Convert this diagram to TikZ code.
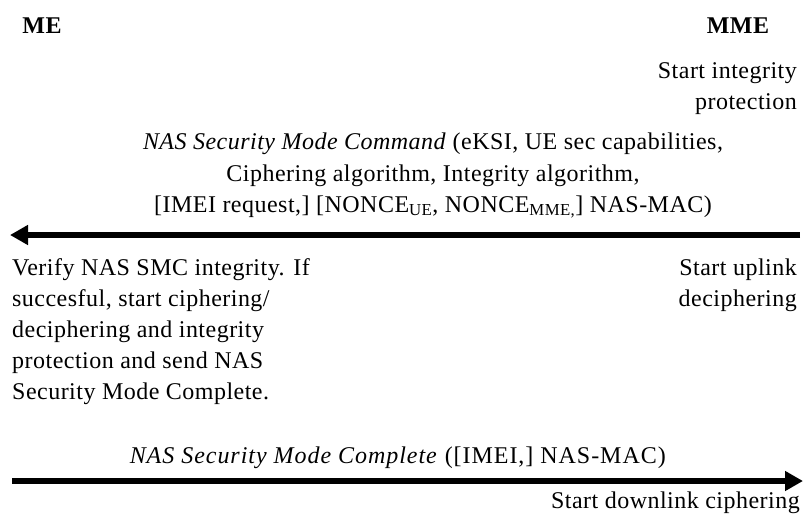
\documentclass[tikz,border=0pt]{standalone}
\usepackage{fontspec}
\setmainfont{Liberation Serif}[LetterSpace=2]
\usetikzlibrary{arrows.meta}
\begin{document}
\begin{tikzpicture}[x=1pt,y=-1pt,
  txt/.style={inner sep=0pt, font=\fontsize{24}{31}\selectfont},
  head/.style={inner sep=0pt, font=\fontsize{24}{28}\selectfont\bfseries},
  msg/.style={line width=6pt, -{Triangle[length=18pt,width=19pt]}}]
\useasboundingbox (0,0) rectangle (803,514);
% lifeline headers
\node[head, anchor=base] (me) at (42,33) {ME};
\node[head, anchor=base] (mme) at (738,33) {MME};
% MME action
\node[txt, anchor=base east] (sip1) at (797,78) {Start integrity};
\node[txt, anchor=base east] (sip2) at (797,109) {protection};
% command message
\node[txt, anchor=base] (cmd1) at (433,149) {\textit{NAS Security Mode Command} (eKSI, UE sec capabilities,};
\node[txt, anchor=base] (cmd2) at (433,181) {Ciphering algorithm, Integrity algorithm,};
\node[txt, anchor=base] (cmd3) at (433,212) {[IMEI request,] [NONCE\textsubscript{UE}, NONCE\textsubscript{MME,}] NAS-MAC)};
\coordinate (a1s) at (800,235);
\coordinate (a1e) at (10,235);
\draw[msg] (a1s) -- (a1e);
% ME action
\node[txt, anchor=base west] (ver1) at (12,275) {Verify NAS SMC integrity. If};
\node[txt, anchor=base west] (ver2) at (12,306) {succesful, start ciphering/};
\node[txt, anchor=base west] (ver3) at (12,337) {deciphering and integrity};
\node[txt, anchor=base west] (ver4) at (12,368) {protection and send NAS};
\node[txt, anchor=base west] (ver5) at (12,399) {Security Mode Complete.};
% MME action
\node[txt, anchor=base east] (sud1) at (797,275) {Start uplink};
\node[txt, anchor=base east] (sud2) at (797,306) {deciphering};
% complete message
\node[txt, anchor=base east, font=\fontsize{24}{31}\selectfont\addfontfeature{LetterSpace=4}] (cmp) at (666,463) {\textit{NAS Security Mode Complete} ([IMEI,] NAS-MAC)};
\coordinate (a2s) at (12,481);
\coordinate (a2e) at (803,481);
\draw[msg] (a2s) -- (a2e);
\node[txt, anchor=base east] (sdc) at (800,508) {Start downlink ciphering};
\end{tikzpicture}
\end{document}
